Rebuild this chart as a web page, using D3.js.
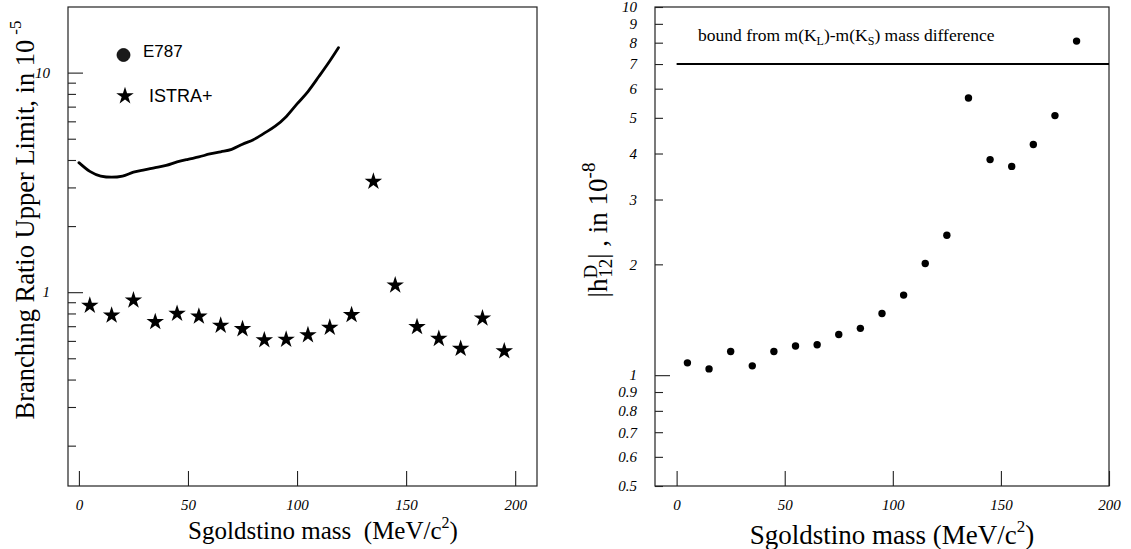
<!DOCTYPE html>
<html>
<head>
<meta charset="utf-8">
<script src="https://cdn.jsdelivr.net/npm/d3@7"></script>
<style>
  body { margin: 0; background: #fff; }
  svg { display: block; }
</style>
</head>
<body>
<div id="app"></div>
<script>
/* globals d3 */
// DATA
// E787 upper limit curve (units of 1e-5)
const e787Mass  = [0, 5, 10, 15, 20, 25, 30, 35, 40, 45, 50, 55, 60, 65, 70, 75, 80, 85, 90, 95, 100, 105, 110, 115, 119];
const e787Limit = [3.89, 3.55, 3.38, 3.34, 3.38, 3.52, 3.61, 3.69, 3.78, 3.92, 4.03, 4.13, 4.26, 4.36, 4.47, 4.72, 4.95, 5.3, 5.7, 6.3, 7.2, 8.2, 9.6, 11.3, 13.0];

// ISTRA+ upper limits (units of 1e-5)
const istraMass  = [5, 15, 25, 35, 45, 55, 65, 75, 85, 95, 105, 115, 125, 135, 145, 155, 165, 175, 185, 195];
const istraLimit = [0.869, 0.784, 0.919, 0.732, 0.799, 0.776, 0.705, 0.680, 0.605, 0.609, 0.638, 0.690, 0.788, 3.19, 1.075, 0.695, 0.614, 0.553, 0.761, 0.539];

// |h12^D| (units of 1e-8)
const hMass  = [5, 15, 25, 35, 45, 55, 65, 75, 85, 95, 105, 115, 125, 135, 145, 155, 165, 175, 185];
const hValue = [1.08, 1.04, 1.16, 1.06, 1.16, 1.20, 1.21, 1.29, 1.34, 1.47, 1.65, 2.01, 2.40, 5.66, 3.85, 3.69, 4.23, 5.07, 8.08];
const hBound = 7;

// tick values
const xMajor = [0, 50, 100, 150, 200];
const xMinor = [10, 20, 30, 40, 60, 70, 80, 90, 110, 120, 130, 140, 160, 170, 180, 190];
const leftYTicks  = [0.2, 0.3, 0.4, 0.5, 0.6, 0.7, 0.8, 0.9, 1, 2, 3, 4, 5, 6, 7, 8, 9, 10];
const leftYMajor  = [1, 10];
const rightYTicks = [0.5, 0.6, 0.7, 0.8, 0.9, 1, 2, 3, 4, 5, 6, 7, 8, 9, 10];
const rightYMajor = [1];

// LAYOUT
const W = 1131, H = 549;
const SERIF = '"Liberation Serif", "Times New Roman", serif';
const SANS = '"Liberation Sans", Arial, sans-serif';

const svg = d3.select('#app').append('svg')
  .attr('width', W)
  .attr('height', H);

svg.append('rect').attr('width', W).attr('height', H).attr('fill', '#fff');

function frame(x, y) {
  const [x0, x1] = x.range();
  const [y1, y0] = y.range();
  svg.append('rect')
    .attr('x', x0).attr('y', y0)
    .attr('width', x1 - x0).attr('height', y1 - y0)
    .attr('fill', 'none')
    .attr('stroke', '#222')
    .attr('stroke-width', 1.2);
}

function xAxis(x, y0) {
  const g = svg.append('g').attr('transform', `translate(0,${y0})`);
  g.call(d3.axisBottom(x).tickValues(xMinor).tickSize(-7).tickSizeOuter(0).tickFormat(''));
  g.call(d3.axisBottom(x).tickValues(xMajor).tickSize(-15).tickSizeOuter(0).tickPadding(13));
  g.select('.domain').remove();
  g.selectAll('.tick line').attr('stroke', '#222').attr('stroke-width', 1.1);
  g.selectAll('text')
    .attr('font-family', SERIF)
    .attr('font-style', 'italic')
    .attr('font-size', 15)
    .attr('fill', '#000');
  return g;
}

function yAxis(y, x0, ticks, major, labels, fmt) {
  const g = svg.append('g').attr('transform', `translate(${x0},0)`);
  g.call(d3.axisLeft(y).tickValues(ticks).tickSize(-8).tickSizeOuter(0).tickPadding(18)
    .tickFormat(d => labels.includes(d) ? fmt(d) : ''));
  g.select('.domain').remove();
  g.selectAll('.tick line')
    .attr('x2', d => major.includes(d) ? 15 : 8)
    .attr('stroke', '#222').attr('stroke-width', 1.1);
  g.selectAll('text')
    .attr('font-family', SERIF)
    .attr('font-style', 'italic')
    .attr('font-size', 15)
    .attr('fill', '#000');
  return g;
}

// LEFT PANEL
const xL = d3.scaleLinear().domain([-5, 210]).range([68, 537]);
const yL = d3.scaleLog().domain([0.131, 19.9]).range([486, 7]);

frame(xL, yL);
xAxis(xL, 486);
yAxis(yL, 68, leftYTicks, leftYMajor, leftYMajor, d => String(d));

const e787 = e787Mass.map((m, i) => [m, e787Limit[i]]);
svg.append('path')
  .datum(e787)
  .attr('fill', 'none')
  .attr('stroke', '#000')
  .attr('stroke-width', 2.8)
  .attr('stroke-linecap', 'round')
  .attr('d', d3.line().x(d => xL(d[0])).y(d => yL(d[1])).curve(d3.curveMonotoneX));

const star = d3.symbol().type(d3.symbolStar).size(95);
svg.append('g').selectAll('path')
  .data(istraMass.map((m, i) => [m, istraLimit[i]]))
  .enter()
    .append('path')
    .attr('d', star)
    .attr('transform', d => `translate(${xL(d[0])},${yL(d[1])})`)
    .attr('fill', '#000');

// legend
svg.append('circle')
  .attr('cx', 123.5).attr('cy', 55).attr('r', 6.5)
  .attr('fill', '#1a1a1a').attr('stroke', '#000').attr('stroke-width', 0.8);
svg.append('text')
  .attr('x', 143).attr('y', 57)
  .attr('font-family', SANS).attr('font-size', 17)
  .text('E787');
svg.append('path')
  .attr('d', star)
  .attr('transform', 'translate(125,96)')
  .attr('fill', '#000');
svg.append('text')
  .attr('x', 149).attr('y', 102)
  .attr('font-family', SANS).attr('font-size', 18)
  .text('ISTRA+');

// titles
svg.append('text')
  .attr('x', 323).attr('y', 539)
  .attr('text-anchor', 'middle')
  .attr('font-family', SERIF).attr('font-size', 25)
  .attr('xml:space', 'preserve')
  .call(t => {
    t.append('tspan').text('Sgoldstino mass  (MeV/c');
    t.append('tspan').attr('font-size', 16).attr('dy', -11).text('2');
    t.append('tspan').attr('dy', 11).text(')');
  });

svg.append('text')
  .attr('transform', 'translate(34,220) rotate(-90)')
  .attr('text-anchor', 'middle')
  .attr('font-family', SERIF).attr('font-size', 26.5)
  .call(t => {
    t.append('tspan').text('Branching Ratio Upper Limit, in 10');
    t.append('tspan').attr('font-size', 17).attr('dx', 5).attr('dy', -13).text('-5');
  });

// RIGHT PANEL
const xR = d3.scaleLinear().domain([-10, 200]).range([655, 1109]);
const yR = d3.scaleLog().domain([0.5, 10]).range([486, 7]);

frame(xR, yR);
xAxis(xR, 486);
yAxis(yR, 655, rightYTicks, rightYMajor, rightYTicks, d => String(d));

svg.append('line')
  .attr('x1', xR(0)).attr('x2', xR(200))
  .attr('y1', yR(hBound)).attr('y2', yR(hBound))
  .attr('stroke', '#000').attr('stroke-width', 2);

svg.append('text')
  .attr('x', 698).attr('y', 41)
  .attr('font-family', SERIF).attr('font-size', 17.5)
  .call(t => {
    t.append('tspan').text('bound from m(K');
    t.append('tspan').attr('font-size', 12).attr('dy', 4).text('L');
    t.append('tspan').attr('dy', -4).text(')-m(K');
    t.append('tspan').attr('font-size', 12).attr('dy', 4).text('S');
    t.append('tspan').attr('dy', -4).text(') mass difference');
  });

svg.append('g').selectAll('circle')
  .data(hMass.map((m, i) => [m, hValue[i]]))
  .enter()
    .append('circle')
    .attr('cx', d => xR(d[0]))
    .attr('cy', d => yR(d[1]))
    .attr('r', 3.7)
    .attr('fill', '#000');

svg.append('text')
  .attr('x', 892).attr('y', 544)
  .attr('text-anchor', 'middle')
  .attr('font-family', SERIF).attr('font-size', 27)
  .call(t => {
    t.append('tspan').text('Sgoldstino mass (MeV/c');
    t.append('tspan').attr('font-size', 17).attr('dy', -12).text('2');
    t.append('tspan').attr('dy', 12).text(')');
  });

svg.append('text')
  .attr('transform', 'translate(607,230) rotate(-90)')
  .attr('text-anchor', 'middle')
  .attr('font-family', SERIF).attr('font-size', 27)
  .attr('xml:space', 'preserve')
  .call(t => {
    t.append('tspan').text('|h');
    t.append('tspan').attr('font-size', 19).attr('dy', -10).text('D');
    t.append('tspan').attr('font-size', 19).attr('dx', -13).attr('dy', 15).text('12');
    t.append('tspan').attr('dy', -5).text('| , in 10');
    t.append('tspan').attr('font-size', 19).attr('dy', -12).text('-8');
  });
</script>
</body>
</html>
